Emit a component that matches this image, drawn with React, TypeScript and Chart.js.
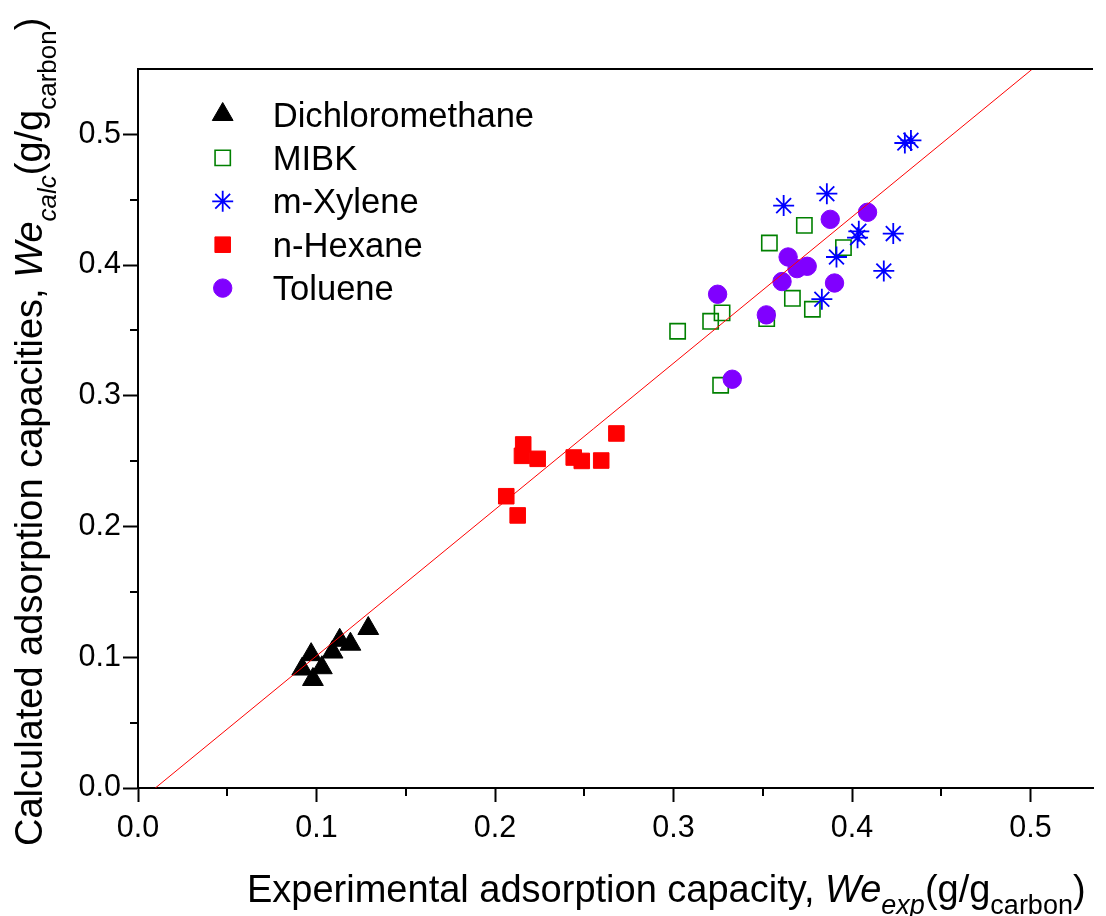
import React, { useEffect, useRef } from 'react';
import { Chart, registerables } from 'chart.js';

Chart.register(...registerables);

const FONT = '"Liberation Sans", Arial, sans-serif';

// ---- Data ----
const seriesNames = ['Dichloromethane', 'MIBK', 'm-Xylene', 'n-Hexane', 'Toluene'];

const dcmX = [0.129, 0.119, 0.113, 0.109, 0.097, 0.092, 0.103, 0.098];
const dcmY = [0.122, 0.110, 0.113, 0.104, 0.102, 0.091, 0.092, 0.083];

const mibkX = [0.3733, 0.3537, 0.3952, 0.3666, 0.3778, 0.3272, 0.3208, 0.3522, 0.3023, 0.3264];
const mibkY = [0.4304, 0.4169, 0.4134, 0.3746, 0.3662, 0.3634, 0.357, 0.3591, 0.3494, 0.3081];

const xyleneX = [0.3617, 0.3859, 0.4038, 0.4031, 0.4231, 0.3913, 0.4178, 0.3831, 0.4296, 0.433];
const xyleneY = [0.4455, 0.4546, 0.4258, 0.421, 0.4241, 0.4062, 0.3955, 0.3739, 0.4934, 0.4954];

const hexaneX = [0.268, 0.2595, 0.2486, 0.2441, 0.2239, 0.2158, 0.2151, 0.2063, 0.2127];
const hexaneY = [0.2712, 0.2505, 0.2502, 0.2528, 0.2518, 0.2628, 0.2541, 0.2232, 0.2085];

const tolueneX = [0.4087, 0.3878, 0.3642, 0.3749, 0.3692, 0.3608, 0.3902, 0.3247, 0.352, 0.3329];
const tolueneY = [0.4404, 0.435, 0.4062, 0.3991, 0.3973, 0.3874, 0.3863, 0.3777, 0.3619, 0.3127];

const fitLineX = [0.0097, 0.5008];
const fitLineY = [0.0, 0.5497];

const xMin = 0;
const xMax = 0.535;
const yMin = 0;
const yMax = 0.55;
const majorStep = 0.1;
const minorTicks = [0.05, 0.15, 0.25, 0.35, 0.45];
const yMinorTicks = [0.05, 0.15, 0.25, 0.35, 0.45];

type Seg = { t: string; italic?: boolean; sub?: boolean };
const xTitle: Seg[] = [
  { t: 'Experimental adsorption capacity, ' },
  { t: 'We', italic: true },
  { t: 'exp', italic: true, sub: true },
  { t: '(g/g' },
  { t: 'carbon', sub: true },
  { t: ')' },
];
const yTitle: Seg[] = [
  { t: 'Calculated adsorption capacities, ' },
  { t: 'We', italic: true },
  { t: 'calc', italic: true, sub: true },
  { t: '(g/g' },
  { t: 'carbon', sub: true },
  { t: ')' },
];

const toPts = (xs: number[], ys: number[]) => xs.map((x, i) => ({ x, y: ys[i] }));

type MarkerStyle = { shape: string; color: string; fill: boolean; r: number; lw: number };
const markerStyles: MarkerStyle[] = [
  { shape: 'triangle', color: '#000000', fill: true, r: 12, lw: 1 },
  { shape: 'rect', color: '#008000', fill: false, r: 10.8, lw: 1.6 },
  { shape: 'star', color: '#0000ff', fill: false, r: 10.5, lw: 1.8 },
  { shape: 'rect', color: '#ff0000', fill: true, r: 11, lw: 1 },
  { shape: 'circle', color: '#8000ff', fill: true, r: 9.2, lw: 1 },
];

function drawMarker(ctx: CanvasRenderingContext2D, s: MarkerStyle, x: number, y: number) {
  ctx.save();
  ctx.strokeStyle = s.color;
  ctx.fillStyle = s.color;
  ctx.lineWidth = s.lw;
  ctx.beginPath();
  const r = s.r;
  if (s.shape === 'triangle') {
    for (let k = 0; k < 3; k++) {
      const a = (k * 2 * Math.PI) / 3;
      const px = x + Math.sin(a) * r;
      const py = y - Math.cos(a) * r;
      if (k === 0) ctx.moveTo(px, py);
      else ctx.lineTo(px, py);
    }
    ctx.closePath();
  } else if (s.shape === 'rect') {
    const h = Math.SQRT1_2 * r;
    ctx.rect(x - h, y - h, 2 * h, 2 * h);
  } else if (s.shape === 'circle') {
    ctx.arc(x, y, r, 0, Math.PI * 2);
  } else if (s.shape === 'star') {
    for (let k = 0; k < 4; k++) {
      const a = (k * Math.PI) / 4;
      ctx.moveTo(x - Math.sin(a) * r, y - Math.cos(a) * r);
      ctx.lineTo(x + Math.sin(a) * r, y + Math.cos(a) * r);
    }
  }
  if (s.fill) ctx.fill();
  ctx.stroke();
  ctx.restore();
}

function drawRich(
  ctx: CanvasRenderingContext2D,
  segs: Seg[],
  x: number,
  y: number,
  angle: number,
  size: number,
  subSize: number,
  subShift: number
) {
  ctx.save();
  ctx.translate(x, y);
  ctx.rotate(angle);
  ctx.fillStyle = '#000';
  ctx.textBaseline = 'alphabetic';
  ctx.textAlign = 'left';
  let cx = 0;
  for (const s of segs) {
    ctx.font = `${s.italic ? 'italic ' : ''}${s.sub ? subSize : size}px ${FONT}`;
    ctx.fillText(s.t, cx, s.sub ? subShift : 0);
    cx += ctx.measureText(s.t).width;
  }
  ctx.restore();
}

const decorPlugin = {
  id: 'decor',
  afterDraw(chart: any) {
    const ctx: CanvasRenderingContext2D = chart.ctx;
    const xs = chart.scales.x;
    const ys = chart.scales.y;
    const { left, right, top, bottom } = chart.chartArea;
    ctx.save();
    ctx.strokeStyle = '#000';
    ctx.lineWidth = 2;
    ctx.beginPath();
    for (const v of minorTicks) {
      const px = Math.round(xs.getPixelForValue(v));
      ctx.moveTo(px, bottom);
      ctx.lineTo(px, bottom + 8);
    }
    for (const v of yMinorTicks) {
      const py = Math.round(ys.getPixelForValue(v));
      ctx.moveTo(left, py);
      ctx.lineTo(left - 8, py);
    }
    ctx.moveTo(left - 1, top);
    ctx.lineTo(right, top);
    ctx.stroke();
    ctx.restore();

    // legend
    const legX = 222.7;
    const textX = 272.7;
    const y0 = 114.5;
    const dy = 43.4;
    seriesNames.forEach((name, i) => {
      const cy = y0 + i * dy;
      drawMarker(ctx, markerStyles[i], legX, cy);
      ctx.save();
      ctx.fillStyle = '#000';
      ctx.font = `34.6px ${FONT}`;
      ctx.textBaseline = 'alphabetic';
      ctx.fillText(name, textX, cy + 12);
      ctx.restore();
    });

    // axis titles
    drawRich(ctx, xTitle, 247, 901.7, 0, 38, 27, 12);
    drawRich(ctx, yTitle, 41.7, 846, -Math.PI / 2, 38, 26, 14);
  },
};

export default function App() {
  const ref = useRef<HTMLCanvasElement>(null);
  useEffect(() => {
    const canvas = ref.current!;
    const ds = (i: number, xs: number[], ys: number[], order: number) => {
      const s = markerStyles[i];
      return {
        label: seriesNames[i],
        data: toPts(xs, ys),
        pointStyle: s.shape,
        pointRadius: s.r,
        pointHoverRadius: s.r,
        pointBackgroundColor: s.fill ? s.color : 'rgba(0,0,0,0)',
        pointBorderColor: s.color,
        pointBorderWidth: s.lw,
        showLine: false,
        order,
      };
    };
    const chart = new Chart(canvas, {
      type: 'scatter',
      data: {
        datasets: [
          {
            label: 'fit',
            data: toPts(fitLineX, fitLineY),
            showLine: true,
            borderColor: '#ff0000',
            borderWidth: 1,
            pointRadius: 0,
            order: 0,
          } as any,
          ds(0, dcmX, dcmY, 5),
          ds(1, mibkX, mibkY, 4),
          ds(2, xyleneX, xyleneY, 3),
          ds(3, hexaneX, hexaneY, 2),
          ds(4, tolueneX, tolueneY, 1),
        ],
      },
      options: {
        responsive: false,
        animation: false,
        events: [],
        layout: { padding: { left: 0, top: 69, right: 13, bottom: 0 } },
        plugins: { legend: { display: false }, tooltip: { enabled: false } },
        scales: {
          x: {
            type: 'linear',
            min: xMin,
            max: xMax,
            afterFit(scale: any) {
              scale.height = 128;
            },
            ticks: {
              stepSize: majorStep,
              includeBounds: false,
              color: '#000',
              font: { family: FONT, size: 30.5 },
              padding: 8,
              maxRotation: 0,
              callback: (v: any) => Number(v).toFixed(1),
            },
            grid: {
              drawOnChartArea: false,
              drawTicks: true,
              tickLength: 14,
              tickWidth: 2,
              tickColor: '#000',
            },
            border: { display: true, color: '#000', width: 2 },
          },
          y: {
            type: 'linear',
            min: yMin,
            max: yMax,
            afterFit(scale: any) {
              scale.width = 138;
            },
            ticks: {
              stepSize: majorStep,
              includeBounds: false,
              color: '#000',
              font: { family: FONT, size: 30.5 },
              padding: 2,
              callback: (v: any) => Number(v).toFixed(1),
            },
            grid: {
              drawOnChartArea: false,
              drawTicks: true,
              tickLength: 15,
              tickWidth: 2,
              tickColor: '#000',
            },
            border: { display: true, color: '#000', width: 2 },
          },
        },
      } as any,
      plugins: [decorPlugin],
    });
    return () => chart.destroy();
  }, []);
  return (
    <canvas
      ref={ref}
      width={1106}
      height={916}
      style={{ position: 'absolute', left: 0, top: 0, width: 1106, height: 916, display: 'block' }}
    />
  );
}
